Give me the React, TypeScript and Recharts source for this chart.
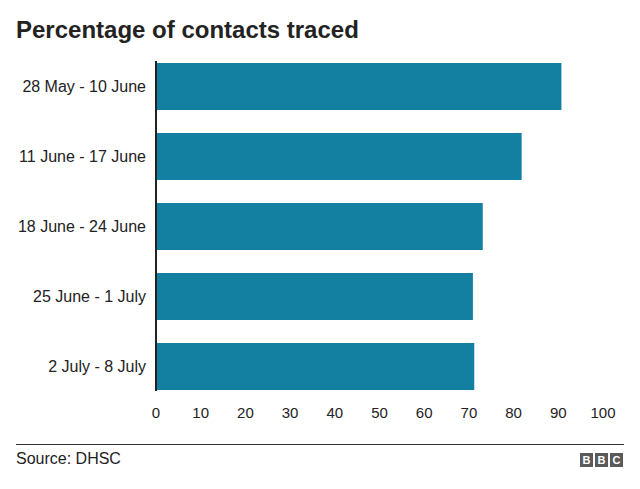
import React from 'react';
import { Bar, BarChart, XAxis, YAxis } from 'recharts';

const weeks = [
  '28 May - 10 June',
  '11 June - 17 June',
  '18 June - 24 June',
  '25 June - 1 July',
  '2 July - 8 July',
];
const traced = [90.7, 81.8, 73.1, 70.9, 71.2];
const xTicks = [0, 10, 20, 30, 40, 50, 60, 70, 80, 90, 100];

const data = weeks.map((week, i) => ({ week, traced: traced[i] }));

const font = '"Liberation Sans", Arial, Helvetica, sans-serif';
const barColor = '#1380A1';
const textColor = '#222222';

const BbcLogo: React.FC = () => (
  <div style={{ position: 'absolute', left: 580, top: 453, display: 'flex', gap: 2 }}>
    {['B', 'B', 'C'].map((l, i) => (
      <div
        key={i}
        style={{
          width: 13,
          height: 14,
          background: '#5a5a5a',
          color: '#fff',
          fontFamily: font,
          fontWeight: 'bold',
          fontSize: 11,
          lineHeight: '14px',
          textAlign: 'center',
        }}
      >
        {l}
      </div>
    ))}
  </div>
);

const App: React.FC = () => {
  return (
    <div
      style={{
        position: 'absolute',
        left: 0,
        top: 0,
        width: 640,
        height: 489,
        background: '#fff',
        fontFamily: font,
        color: textColor,
      }}
    >
      <div
        style={{
          position: 'absolute',
          left: 16,
          top: 16,
          fontSize: 24,
          fontWeight: 'bold',
          lineHeight: '28px',
        }}
      >
        Percentage of contacts traced
      </div>

      <div style={{ position: 'absolute', left: 0, top: 0 }}>
        <BarChart
          width={640}
          height={430}
          data={data}
          layout="vertical"
          margin={{ top: 61, right: 37, bottom: 0, left: 0 }}
        >
          <XAxis
            type="number"
            domain={[0, 100]}
            ticks={xTicks}
            axisLine={false}
            tickLine={false}
            tickMargin={10}
            height={39}
            interval={0}
            tick={{ fill: textColor, fontSize: 15, fontFamily: font }}
          />
          <YAxis
            type="category"
            dataKey="week"
            width={156}
            padding={{ top: -10, bottom: -10 }}
            axisLine={{ stroke: '#222', strokeWidth: 2 }}
            tickLine={false}
            tickMargin={4}
            tick={{ fill: textColor, fontSize: 16, fontFamily: font }}
          />
          <Bar dataKey="traced" fill={barColor} barSize={47} isAnimationActive={false} />
        </BarChart>
      </div>

      <div
        style={{
          position: 'absolute',
          left: 16,
          top: 444,
          width: 608,
          height: 1,
          background: '#333',
        }}
      />
      <div
        style={{
          position: 'absolute',
          left: 16,
          top: 450,
          fontSize: 16,
          lineHeight: '18px',
        }}
      >
        Source: DHSC
      </div>
      <BbcLogo />
    </div>
  );
};

export default App;
